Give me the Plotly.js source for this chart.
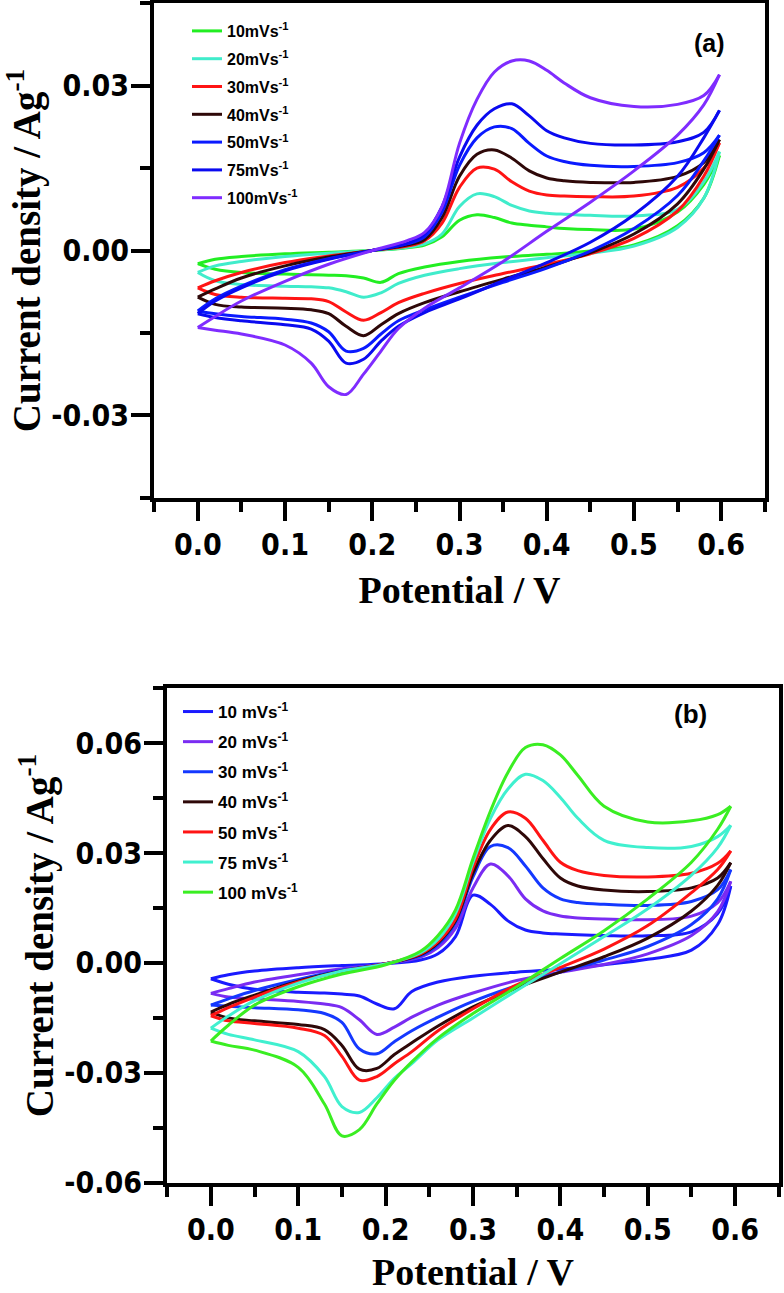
<!DOCTYPE html>
<html><head><meta charset="utf-8">
<script src="https://cdn.plot.ly/plotly-3.0.1.min.js"></script>
<style>html,body{margin:0;padding:0;background:#fff}</style>
</head><body><div id="chart" style="width:784px;height:1293px"></div>
<script>
// ---------- potential grids ----------
const VA_UP = [0,0.02,0.05,0.1,0.15,0.2,0.24,0.26,0.28,0.3,0.32,0.34,0.36,0.38,0.4,0.42,0.45,0.5,0.55,0.58,0.598];
const VA_DN = [0.598,0.58,0.55,0.5,0.45,0.4,0.35,0.3,0.26,0.23,0.21,0.19,0.17,0.15,0.13,0.1,0.05,0.02,0];
const VB_UP = [0,0.02,0.05,0.1,0.15,0.2,0.24,0.26,0.28,0.3,0.32,0.34,0.36,0.38,0.4,0.42,0.45,0.5,0.55,0.58,0.595];
const VB_DN = [0.595,0.58,0.55,0.5,0.45,0.4,0.35,0.3,0.26,0.23,0.21,0.19,0.17,0.15,0.13,0.1,0.05,0.02,0];

// ---------- panel (a) ----------
const A10_UP = [-0.0024,-0.0016,-0.0011,-0.0006,-0.0003,0.0,0.0005,0.001,0.0025,0.0055,0.0065,0.006,0.005,0.0046,0.0043,0.004,0.0038,0.0039,0.007,0.012,0.0173];
const A10_DN = [0.0173,0.0095,0.0045,0.001,-0.0001,-0.0007,-0.0012,-0.002,-0.003,-0.0042,-0.0058,-0.005,-0.0046,-0.0045,-0.0044,-0.0043,-0.004,-0.0034,-0.0024];
const A20_UP = [-0.004,-0.0028,-0.002,-0.0011,-0.0005,0.0,0.0006,0.0012,0.003,0.008,0.0103,0.0098,0.0082,0.0072,0.0068,0.0066,0.0064,0.0063,0.0075,0.0125,0.018];
const A20_DN = [0.018,0.0095,0.0042,0.0008,-0.0005,-0.0013,-0.0022,-0.0033,-0.0045,-0.006,-0.0077,-0.0085,-0.0075,-0.0068,-0.0066,-0.0065,-0.0062,-0.0055,-0.004];
const A30_UP = [-0.0068,-0.0055,-0.004,-0.0022,-0.001,0.0,0.0008,0.0018,0.005,0.0115,0.015,0.0148,0.0125,0.0108,0.0101,0.0099,0.0098,0.0099,0.0115,0.015,0.0196];
const A30_DN = [0.0196,0.0135,0.0072,0.0022,-0.0006,-0.0025,-0.0042,-0.006,-0.0078,-0.0095,-0.0113,-0.0127,-0.0112,-0.0093,-0.0088,-0.0087,-0.0085,-0.008,-0.0068];
const A40_UP = [-0.0085,-0.007,-0.005,-0.0028,-0.0012,0.0,0.001,0.002,0.006,0.0135,0.0175,0.0183,0.0168,0.0145,0.0132,0.0127,0.0124,0.0124,0.0135,0.016,0.0202];
const A40_DN = [0.0202,0.0148,0.0085,0.003,-0.0004,-0.003,-0.0052,-0.0075,-0.0095,-0.0115,-0.0135,-0.0155,-0.0138,-0.0115,-0.0108,-0.0105,-0.0103,-0.0098,-0.0085];
const A50_UP = [-0.011,-0.0088,-0.0065,-0.0035,-0.0015,0.0,0.0012,0.0025,0.007,0.0155,0.0205,0.0225,0.0222,0.0195,0.0172,0.0162,0.0155,0.0153,0.016,0.0178,0.021];
const A50_DN = [0.021,0.0163,0.01,0.004,-0.0001,-0.0032,-0.0058,-0.0085,-0.0108,-0.0128,-0.0152,-0.0178,-0.0183,-0.0148,-0.0132,-0.0125,-0.012,-0.0115,-0.011];
const A75_UP = [-0.0115,-0.0092,-0.0068,-0.0037,-0.0016,0.0,0.0013,0.003,0.008,0.017,0.0228,0.0258,0.0267,0.0245,0.0218,0.0205,0.0195,0.0192,0.0198,0.0215,0.0255];
const A75_DN = [0.0255,0.0205,0.0135,0.0065,0.0015,-0.0022,-0.0055,-0.0088,-0.0113,-0.0138,-0.0165,-0.0198,-0.0205,-0.0165,-0.0143,-0.0135,-0.0128,-0.0122,-0.0115];
const A100_UP = [-0.014,-0.012,-0.0092,-0.0056,-0.0025,0.0,0.0018,0.0033,0.008,0.0195,0.0275,0.0325,0.0345,0.0345,0.0328,0.0305,0.0278,0.0262,0.0266,0.0282,0.032];
const A100_DN = [0.032,0.0265,0.021,0.0145,0.0088,0.0035,-0.002,-0.0068,-0.0105,-0.0142,-0.0183,-0.0225,-0.0262,-0.0248,-0.0205,-0.0172,-0.0152,-0.0145,-0.014];

// ---------- panel (b) ----------
const B10_UP = [-0.0043,-0.0032,-0.0022,-0.0013,-0.0007,-0.0002,0.0008,0.0025,0.0072,0.0185,0.016,0.0115,0.009,0.0082,0.0079,0.0077,0.0075,0.0074,0.0085,0.0135,0.021];
const B10_DN = [0.021,0.0105,0.0035,0.001,-0.0005,-0.0017,-0.0025,-0.0036,-0.0052,-0.0078,-0.0125,-0.0112,-0.009,-0.0085,-0.0082,-0.008,-0.0072,-0.0058,-0.0043];
const B20_UP = [-0.0083,-0.007,-0.0052,-0.0032,-0.0016,-0.0002,0.0016,0.0042,0.0095,0.0205,0.027,0.0238,0.0175,0.0142,0.0128,0.0123,0.012,0.0118,0.0128,0.0165,0.0223];
const B20_DN = [0.0223,0.014,0.0075,0.0025,-0.0004,-0.0025,-0.0048,-0.0082,-0.0115,-0.0148,-0.0175,-0.0195,-0.0155,-0.0122,-0.0112,-0.0105,-0.0098,-0.0093,-0.0083];
const B30_UP = [-0.0115,-0.0098,-0.0075,-0.0045,-0.002,-0.0002,0.002,0.005,0.011,0.0235,0.0318,0.0315,0.0265,0.0205,0.0175,0.0165,0.016,0.0157,0.0168,0.02,0.0255];
const B30_DN = [0.0255,0.0175,0.0105,0.0045,0.0008,-0.0025,-0.0062,-0.0105,-0.0148,-0.0185,-0.0215,-0.0248,-0.0235,-0.0162,-0.0138,-0.0128,-0.0122,-0.0118,-0.0115];
const B40_UP = [-0.0134,-0.0113,-0.0088,-0.005,-0.0022,-0.0002,0.0023,0.0055,0.0115,0.0245,0.0335,0.0375,0.0345,0.0285,0.0232,0.021,0.0199,0.0195,0.0205,0.0232,0.0274];
const B40_DN = [0.0274,0.0212,0.0142,0.0068,0.0017,-0.0025,-0.0068,-0.012,-0.0172,-0.0218,-0.025,-0.0288,-0.029,-0.0225,-0.0182,-0.0168,-0.0158,-0.015,-0.0134];
const B50_UP = [-0.0144,-0.0122,-0.0093,-0.0052,-0.0023,-0.0002,0.0025,0.0058,0.012,0.026,0.0365,0.0412,0.0395,0.0335,0.0275,0.0252,0.0239,0.0235,0.0245,0.0272,0.0306];
const B50_DN = [0.0306,0.0255,0.0192,0.0102,0.0038,-0.0012,-0.006,-0.0125,-0.0185,-0.0242,-0.0275,-0.031,-0.032,-0.0255,-0.0198,-0.0178,-0.0165,-0.0158,-0.0144];
const B75_UP = [-0.0178,-0.0145,-0.0103,-0.0055,-0.0022,-0.0003,0.0028,0.0065,0.0135,0.0275,0.0395,0.0475,0.0515,0.0498,0.0452,0.0395,0.0335,0.0315,0.0318,0.0345,0.0376];
const B75_DN = [0.0376,0.0315,0.024,0.0148,0.0072,-0.0002,-0.0075,-0.015,-0.021,-0.0275,-0.0315,-0.0368,-0.0408,-0.0392,-0.031,-0.0242,-0.021,-0.0195,-0.0178];
const B100_UP = [-0.0213,-0.017,-0.0115,-0.0065,-0.003,-0.0005,0.0032,0.0075,0.0145,0.0285,0.0415,0.052,0.0588,0.0596,0.0568,0.0512,0.0428,0.0385,0.0388,0.0405,0.0428];
const B100_DN = [0.0428,0.0365,0.0275,0.0175,0.0088,0.0012,-0.0065,-0.0138,-0.0205,-0.027,-0.032,-0.0385,-0.0455,-0.0472,-0.0385,-0.0285,-0.0238,-0.0225,-0.0213];

// ---------- labels & colours ----------
const A_NAMES = ['10mVs<sup>-1</sup>','20mVs<sup>-1</sup>','30mVs<sup>-1</sup>','40mVs<sup>-1</sup>','50mVs<sup>-1</sup>','75mVs<sup>-1</sup>','100mVs<sup>-1</sup>'];
const B_NAMES = ['10 mVs<sup>-1</sup>','20 mVs<sup>-1</sup>','30 mVs<sup>-1</sup>','40 mVs<sup>-1</sup>','50 mVs<sup>-1</sup>','75 mVs<sup>-1</sup>','100 mVs<sup>-1</sup>'];
const A_COLORS = ['#22ee22','#40eccb','#ff1414','#2e0808','#0a1aff','#0a0af0','#7f2cff'];
const B_COLORS = ['#1a1aff','#7a2cf2','#1438ff','#2e0808','#ff1414','#40f0cf','#3aee22'];
const A_UPS = [A10_UP,A20_UP,A30_UP,A40_UP,A50_UP,A75_UP,A100_UP];
const A_DNS = [A10_DN,A20_DN,A30_DN,A40_DN,A50_DN,A75_DN,A100_DN];
const B_UPS = [B10_UP,B20_UP,B30_UP,B40_UP,B50_UP,B75_UP,B100_UP];
const B_DNS = [B10_DN,B20_DN,B30_DN,B40_DN,B50_DN,B75_DN,B100_DN];
const Y_ALIAS = {'\u22120.03':'-0.03', '\u22120.06':'-0.06'};

const traces = [];
function addPanel(ups, dns, vup, vdn, names, colors, xa, ya, leg, tag){
  for (let i=0;i<ups.length;i++){
    const common = {mode:'lines', xaxis:xa, yaxis:ya, legend:leg, legendgroup:tag+i,
      line:{color:colors[i], width:3, shape:'spline', smoothing:1.0}, hoverinfo:'skip'};
    traces.push(Object.assign({x:vup, y:ups[i], name:names[i], showlegend:true}, common));
    traces.push(Object.assign({x:vdn, y:dns[i], name:names[i], showlegend:false}, common));
  }
}
addPanel(A_UPS, A_DNS, VA_UP, VA_DN, A_NAMES, A_COLORS, 'x', 'y', 'legend', 'a');
addPanel(B_UPS, B_DNS, VB_UP, VB_DN, B_NAMES, B_COLORS, 'x2', 'y2', 'legend2', 'b');

const tickFont = {family:'Liberation Sans Narrow, Arial Narrow, DejaVu Sans Condensed, sans-serif', size:30, weight:'bold', color:'#000'};
const titleFont = {family:'Liberation Serif, Times New Roman, serif', size:39, weight:'bold', color:'#000'};
function xAxis(domain, anchor){
  return {domain:domain, anchor:anchor, range:[-0.0502,0.6502], tick0:0, dtick:0.1, tickformat:'.1f',
    ticks:'outside', ticklen:19, tickwidth:4, tickcolor:'#000', ticklabelstandoff:-2,
    minor:{dtick:0.05, tick0:0, ticks:'outside', ticklen:10, tickwidth:4, tickcolor:'#000'},
    showline:true, linewidth:4, linecolor:'#000', mirror:true, showgrid:false, zeroline:false,
    tickfont:tickFont, title:{text:'Potential / V', font:Object.assign({}, titleFont, {size:38}), standoff:16}};
}
function yAxis(domain, anchor, range){
  return {domain:domain, anchor:anchor, range:range, tick0:0, dtick:0.03, tickformat:'.2f',
    ticks:'outside', ticklen:19, tickwidth:4, tickcolor:'#000', ticklabelstandoff:-4,
    labelalias:Y_ALIAS,
    minor:{dtick:0.015, tick0:0, ticks:'outside', ticklen:10, tickwidth:4, tickcolor:'#000'},
    showline:true, linewidth:4, linecolor:'#000', mirror:true, showgrid:false, zeroline:false,
    tickfont:tickFont, title:{text:'Current density / Ag<sup>-1</sup>', font:titleFont, standoff:0}};
}
const W=784, H=1293;
const legFont = {family:'Liberation Sans, Arial, sans-serif', size:16, weight:'bold', color:'#000'};
const layout = {
  width:W, height:H, margin:{l:0,r:0,t:0,b:0}, paper_bgcolor:'#fff', plot_bgcolor:'#fff',
  showlegend:true,
  xaxis: xAxis([154/W, 765/W], 'y'),
  yaxis: yAxis([1-498/H, 1-3/H], 'x', [-0.04505, 0.04505]),
  xaxis2: xAxis([167/W, 779/W], 'y2'),
  yaxis2: yAxis([1-1183/H, 1-688/H], 'x2', [-0.06007, 0.07507]),
  legend: {x:187/W, y:1-14/H, xanchor:'left', yanchor:'top', bgcolor:'rgba(0,0,0,0)', borderwidth:0,
    font:legFont, tracegroupgap:4, itemwidth:30},
  legend2: {x:178/W, y:1-694/H, xanchor:'left', yanchor:'top', bgcolor:'rgba(0,0,0,0)', borderwidth:0,
    font:Object.assign({}, legFont, {size:17}), tracegroupgap:5, itemwidth:30},
  annotations:[
    {text:'(a)', xref:'paper', yref:'paper', x:709/W, y:1-43/H, xanchor:'center', yanchor:'middle', showarrow:false,
     font:{family:'Liberation Sans, Arial, sans-serif', size:25, weight:'bold', color:'#000'}},
    {text:'(b)', xref:'paper', yref:'paper', x:690/W, y:1-714/H, xanchor:'center', yanchor:'middle', showarrow:false,
     font:{family:'Liberation Sans, Arial, sans-serif', size:26, weight:'bold', color:'#000'}}
  ]
};
Plotly.newPlot('chart', traces, layout, {staticPlot:true, displayModeBar:false});
</script>
</body></html>
